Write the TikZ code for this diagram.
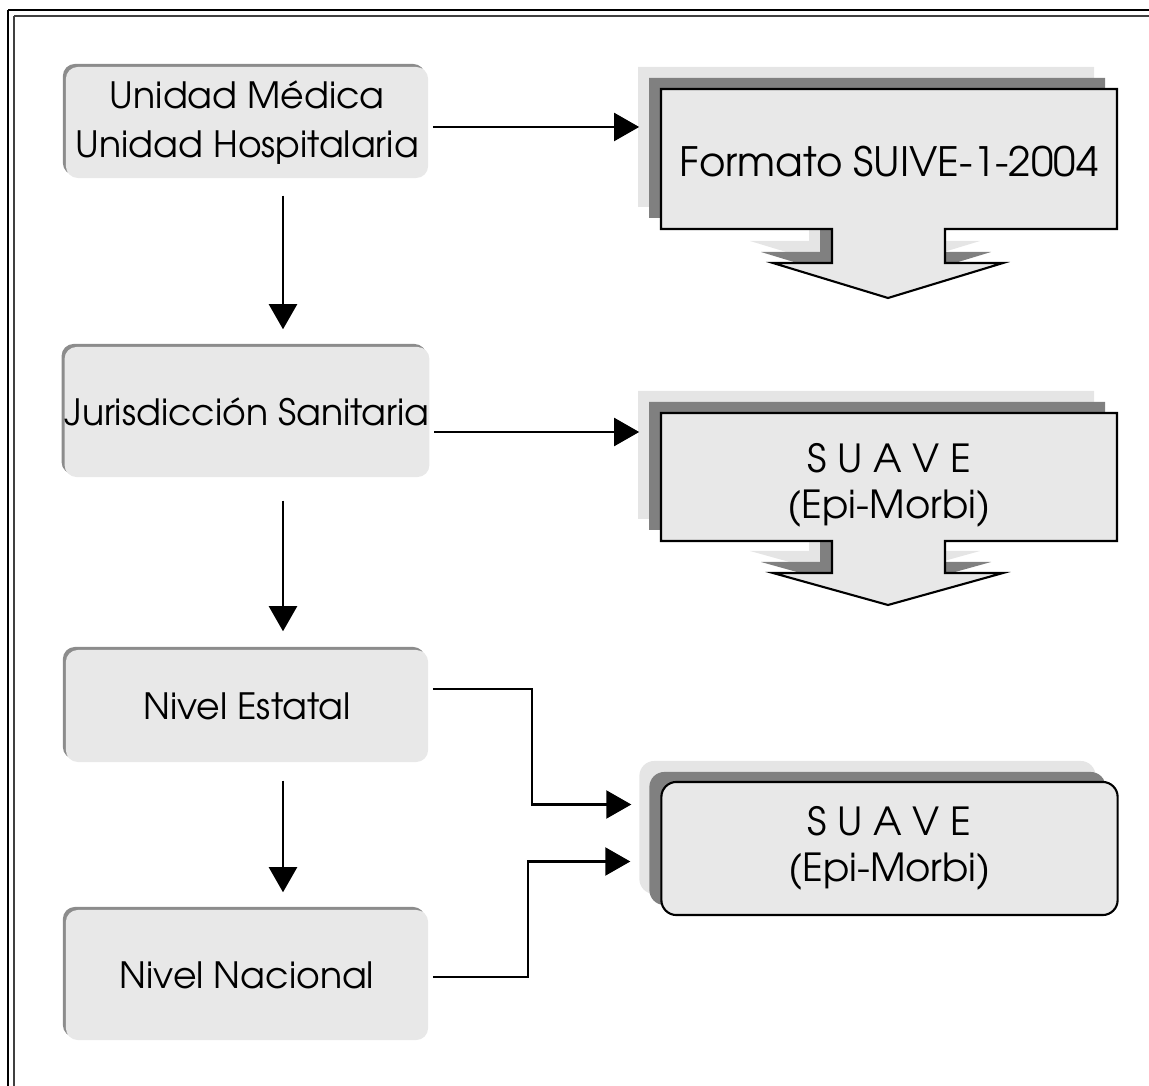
\documentclass[tikz,border=0pt]{standalone}
\usepackage{fontspec}
\setmainfont{TeX Gyre Adventor}
\usetikzlibrary{arrows.meta, calc, shadows}

\tikzstyle{nivel} = [rectangle, rounded corners=0.12cm, fill=black!9, minimum width=3.62cm,
	inner sep=0pt, align=center, font=\fontsize{10.3}{14}\selectfont,
	general shadow={fill=black!45, shadow xshift=-0.03cm, shadow yshift=0.03cm}]
\tikzstyle{sistema} = [rectangle, inner sep=0pt, align=center, minimum width=4.56cm,
	font=\fontsize{11}{13}\selectfont]
\tikzstyle{flow} = [-{Triangle[length=2.5mm, width=2.8mm]}, line width=0.6pt]

% caja con flecha hacia abajo: arriba, abajo, base de la punta, punta
\newcommand{\bajada}[4]{%
	\foreach \dx/\dy/\tono/\borde in {-23/-22/black!10/none, -12/-11/black!50/none, 0/0/black!9/black}{
		\draw[draw=\borde, fill=\tono, line width=0.6pt, shift={(\dx,\dy)}]
		(661,#1) -- (1117,#1) -- (1117,#2) -- (945,#2) -- (945,#3) -- (1003,#3)
		-- (888,#4) -- (773,#3) -- (832,#3) -- (832,#2) -- (661,#2) -- cycle;
	}
}

\begin{document}
\begin{tikzpicture}[x=0.01cm, y=-0.01cm]
	\useasboundingbox (0,0) rectangle (1149,1086);
	\clip (0,0) rectangle (1149,1086);

	% marco doble
	\draw[line width=0.7pt] (8,10) -- (1300,10) (8,10) -- (8,1300);
	\draw[line width=0.6pt, black!75] (14,16) -- (1300,16) (14,16) -- (14,1300);

	% niveles
	\node (umed) [nivel, minimum height=1.11cm] at (247,122.5) {Unidad Médica\\Unidad Hospitalaria};
	\node (juris) [nivel, minimum height=1.30cm] at (247,412) {Jurisdicción Sanitaria};
	\node (estatal) [nivel, minimum height=1.12cm] at (247,706) {Nivel Estatal};
	\node (nacional) [nivel, minimum height=1.30cm] at (247,975) {Nivel Nacional};

	% sistemas
	\bajada{89}{229}{263}{298}
	\node (formato) [sistema, minimum height=1.40cm, font=\fontsize{11.5}{13}\selectfont] at (889,162) {Formato SUIVE-1-2004};

	\bajada{413}{541}{573}{605}
	\node (suave) [sistema, minimum height=1.28cm] at (889,485) {S U A V E\\(Epi-Morbi)};

	\node (suavefin) [sistema, minimum height=1.33cm, draw, line width=0.6pt, fill=black!9,
		rounded corners=0.15cm,
		general shadow={fill=black!10, shadow xshift=-0.22cm, shadow yshift=0.21cm},
		general shadow={fill=black!50, shadow xshift=-0.12cm, shadow yshift=0.10cm}]
		at (889.5,848.5) {S U A V E\\(Epi-Morbi)};

	% flujo
	\draw[flow] ($(umed.south)+(36,17)$) -- ($(juris.north)+(36,-17)$);
	\draw[flow] ($(juris.south)+(36,23)$) -- ($(estatal.north)+(36,-18)$);
	\draw[flow] ($(estatal.south)+(36,18)$) -- ($(nacional.north)+(36,-17)$);

	\draw[flow] ($(umed.east)+(4,4.5)$) -- ($(formato.west |- umed.east)+(-21,4.5)$);
	\draw[flow] ($(juris.east)+(4,20)$) -- ($(suave.west |- juris.east)+(-21,20)$);

	\draw[flow] ($(estatal.east)+(4,-17)$) -| ($(suavefin.west)+(-128,-44)$) -- ($(suavefin.west)+(-29,-44)$);
	\draw[flow] ($(nacional.east)+(4,2)$) -| ($(suavefin.west)+(-132,13)$) -- ($(suavefin.west)+(-30,13)$);
\end{tikzpicture}
\end{document}
